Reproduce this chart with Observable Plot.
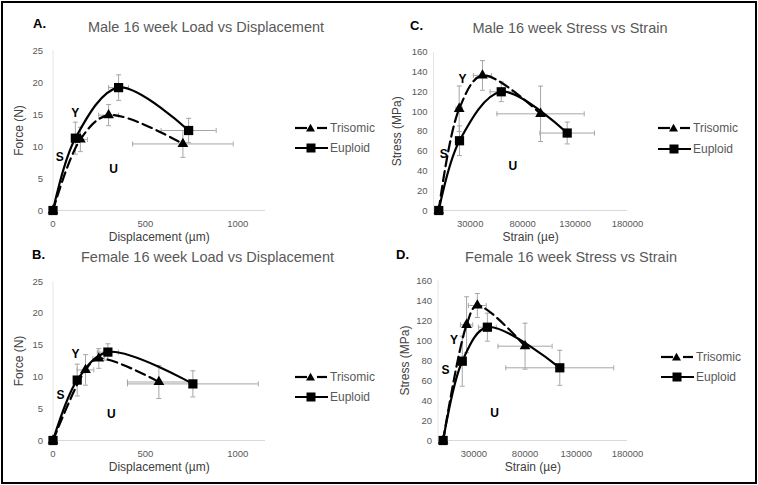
<!DOCTYPE html>
<html>
<head>
<meta charset="utf-8">
<script src="https://cdn.jsdelivr.net/npm/d3@7"></script>
<script src="https://cdn.jsdelivr.net/npm/@observablehq/plot@0.6"></script>
<style>
  body { margin: 0; background: #fff; font-family: "Liberation Sans", Arial, sans-serif; }
  #page { position: relative; width: 758px; height: 485px; overflow: hidden; }
  #frame { position: absolute; left: 1px; top: 1px; width: 756px; height: 483px; border: 2px solid #000; box-sizing: border-box; }
  .panel { position: absolute; }
  .panel svg g[aria-label="x-axis label"], .panel svg g[aria-label="y-axis label"] { font-size: 12px; fill: #404040; }
  .letter { position: absolute; font-weight: bold; font-size: 13px; color: #000; transform: translateY(-50%); }
  .title { position: absolute; font-size: 14.5px; color: #595959; white-space: nowrap; transform: translate(-50%, -50%); }
  .legrow { position: absolute; font-size: 12px; color: #595959; line-height: 14px; height: 14px; white-space: nowrap; display: flex; align-items: center; }
  .legrow svg { margin-right: 1px; }
</style>
</head>
<body>
<div id="page"><div id="frame"></div></div>
<script>
// A. Male 16 week Load vs Displacement
const maleLoadTriX = [0, 148, 301, 703];
const maleLoadTriY = [0, 11.1, 14.9, 10.4];
const maleLoadTriXErr = [0, 38, 54, 272];
const maleLoadTriYErr = [0, 1.9, 1.65, 2.1];
const maleLoadEupX = [0, 121, 355, 734];
const maleLoadEupY = [0, 11.3, 19.2, 12.5];
const maleLoadEupXErr = [0, 20, 54, 149];
const maleLoadEupYErr = [0, 2.5, 2.0, 1.9];
const maleLoadNotes = [["S", 36, 8.4], ["Y", 121, 15.2], ["U", 328, 6.5]];

// B. Female 16 week Load vs Displacement
const femaleLoadTriX = [0, 176, 248, 573];
const femaleLoadTriY = [0, 11.1, 12.9, 9.2];
const femaleLoadTriXErr = [0, 45, 32, 170];
const femaleLoadTriYErr = [0, 2.4, 1.55, 2.6];
const femaleLoadEupX = [0, 131, 297, 757];
const femaleLoadEupY = [0, 9.5, 13.9, 8.9];
const femaleLoadEupXErr = [0, 18, 57, 354];
const femaleLoadEupYErr = [0, 2.5, 1.3, 2.05];
const femaleLoadNotes = [["S", 41, 7.1], ["Y", 122, 13.6], ["U", 315, 4.2]];

// C. Male 16 week Stress vs Strain
const maleStressTriX = [0, 19500, 41700, 97100];
const maleStressTriY = [0, 102.8, 136.5, 97.7];
const maleStressTriXErr = [0, 3000, 8700, 41600];
const maleStressTriYErr = [0, 23, 15, 28];
const maleStressEupX = [0, 19800, 59600, 122500];
const maleStressEupY = [0, 70.5, 120, 78.3];
const maleStressEupXErr = [0, 3000, 10600, 26000];
const maleStressEupYErr = [0, 15, 10, 11];
const maleStressNotes = [["S", 4800, 57], ["Y", 22700, 132.5], ["U", 70700, 44.8]];

// D. Female 16 week Stress vs Strain
const femaleStressTriX = [0, 22900, 33400, 80000];
const femaleStressTriY = [0, 115.7, 135, 94.3];
const femaleStressTriXErr = [0, 6000, 8700, 26400];
const femaleStressTriYErr = [0, 28, 12, 23];
const femaleStressEupX = [0, 18700, 43200, 113900];
const femaleStressEupY = [0, 79.3, 113.3, 72.7];
const femaleStressEupXErr = [0, 3000, 8700, 52700];
const femaleStressEupYErr = [0, 25, 14, 17.5];
const femaleStressNotes = [["S", 2300, 70], ["Y", 10500, 100.7], ["U", 50300, 27.3]];

const loadTicksX = [0, 500, 1000];
const loadTicksY = [0, 5, 10, 15, 20, 25];
const strainTicksX = [30000, 80000, 130000, 180000];
const stressTicksY = [0, 20, 40, 60, 80, 100, 120, 140, 160];
const seriesNames = ["Trisomic", "Euploid"];

const errStroke = "#a6a6a6";

// cap glyphs for error bars; r comes back out of the symbol size
const capH = {draw(ctx, size) { const r = Math.sqrt(size / Math.PI); ctx.moveTo(-r, 0); ctx.lineTo(r, 0); }};
const capV = {draw(ctx, size) { const r = Math.sqrt(size / Math.PI); ctx.moveTo(0, -r); ctx.lineTo(0, r); }};

function rows(xs, ys, xe, ye) {
  return xs.map((x, i) => ({x, y: ys[i], xe: xe[i], ye: ye[i]}));
}

function addDiv(cls, text, left, top) {
  const el = document.createElement("div");
  el.className = cls;
  el.textContent = text;
  el.style.left = left + "px";
  el.style.top = top + "px";
  document.getElementById("page").appendChild(el);
  return el;
}

function legendSwatch(kind) {
  const ns = "http://www.w3.org/2000/svg";
  const svg = document.createElementNS(ns, "svg");
  svg.setAttribute("width", 34);
  svg.setAttribute("height", 12);
  if (kind === 0) {
    svg.innerHTML =
      '<line x1="0" y1="6" x2="12" y2="6" stroke="#000" stroke-width="2.2"/>' +
      '<polygon points="15.5,1.8 20,9.6 11,9.6" fill="#000"/>' +
      '<line x1="22" y1="6" x2="32" y2="6" stroke="#000" stroke-width="2.2"/>';
  } else {
    svg.innerHTML =
      '<line x1="0" y1="6" x2="33" y2="6" stroke="#000" stroke-width="2.2"/>' +
      '<rect x="11.5" y="1.5" width="9" height="9" fill="#000"/>';
  }
  return svg;
}

function addLegend(left, top1, top2) {
  [top1, top2].forEach((cy, i) => {
    const row = addDiv("legrow", "", left, cy - 7);
    row.appendChild(legendSwatch(i));
    row.appendChild(document.createTextNode(seriesNames[i]));
  });
}

function drawPanel(p) {
  const tri = rows(p.triX, p.triY, p.triXErr, p.triYErr);
  const eup = rows(p.eupX, p.eupY, p.eupXErr, p.eupYErr);
  const all = tri.concat(eup);
  const vBars = all.filter((d) => d.ye > 0);
  const hBars = all.filter((d) => d.xe > 0);
  const capStyle = {r: 2.5, stroke: errStroke, fill: "none", strokeWidth: 1};

  const chart = Plot.plot({
    width: p.width,
    height: p.height,
    marginLeft: p.ml,
    marginRight: p.mr,
    marginTop: p.mt,
    marginBottom: p.mb,
    style: {fontFamily: '"Liberation Sans", Arial, sans-serif', fontSize: "9.5px", color: "#595959", background: "transparent", overflow: "visible"},
    x: {
      domain: p.xDomain,
      ticks: p.xTicks,
      tickFormat: (d) => String(d),
      tickSize: 0,
      tickPadding: 10,
      label: p.xLabel,
      labelAnchor: "center",
      labelOffset: 30,
      labelArrow: "none",
    },
    y: {
      domain: p.yDomain,
      ticks: p.yTicks,
      tickFormat: (d) => String(d),
      tickSize: 0,
      tickPadding: p.yPad,
      label: p.yLabel,
      labelAnchor: "center",
      labelOffset: p.yOff,
      labelArrow: "none",
    },
    marks: [
      Plot.ruleX([p.xDomain[0]], {stroke: "#e6e6e6"}),
      Plot.ruleY([0], {stroke: "#d9d9d9"}),
      Plot.ruleX(vBars, {x: "x", y1: (d) => d.y - d.ye, y2: (d) => d.y + d.ye, stroke: errStroke}),
      Plot.ruleY(hBars, {y: "y", x1: (d) => d.x - d.xe, x2: (d) => d.x + d.xe, stroke: errStroke}),
      Plot.dot(vBars, {x: "x", y: (d) => d.y - d.ye, symbol: capH, ...capStyle}),
      Plot.dot(vBars, {x: "x", y: (d) => d.y + d.ye, symbol: capH, ...capStyle}),
      Plot.dot(hBars, {x: (d) => d.x - d.xe, y: "y", symbol: capV, ...capStyle}),
      Plot.dot(hBars, {x: (d) => d.x + d.xe, y: "y", symbol: capV, ...capStyle}),
      Plot.line(eup, {x: "x", y: "y", curve: "catmull-rom", stroke: "#000", strokeWidth: 2.2}),
      Plot.line(tri, {x: "x", y: "y", curve: "catmull-rom", stroke: "#000", strokeWidth: 2.2, strokeDasharray: "10,5"}),
      Plot.dot(tri, {x: "x", y: "y", symbol: "triangle", r: 4, fill: "#000", stroke: "none"}),
      Plot.dot(eup, {x: "x", y: "y", symbol: "square", r: 5.2, fill: "#000", stroke: "none"}),
      Plot.text(p.notes, {x: (d) => d[1], y: (d) => d[2], text: (d) => d[0], fontWeight: "bold", fontSize: 12, fill: "#000"}),
    ],
  });

  const holder = document.createElement("div");
  holder.className = "panel";
  holder.style.left = p.left + "px";
  holder.style.top = p.top + "px";
  holder.appendChild(chart);
  document.getElementById("page").appendChild(holder);
}

const loadLayout = {width: 285, height: 207, ml: 52.5, mr: 20, mb: 35, xDomain: [0, 1150], yDomain: [0, 25], xTicks: loadTicksX, yTicks: loadTicksY, yPad: 10, yOff: 39, xLabel: "Displacement (µm)", yLabel: "Force (N)"};
const strainLayout = {width: 270, height: 207, mr: 18, mb: 35, xDomain: [-5000, 180000], yDomain: [0, 160], xTicks: strainTicksX, yTicks: stressTicksY, yPad: 6, xLabel: "Strain (µe)", yLabel: "Stress (MPa)"};

drawPanel({...loadLayout, left: 0, top: 38, mt: 12,
  triX: maleLoadTriX, triY: maleLoadTriY, triXErr: maleLoadTriXErr, triYErr: maleLoadTriYErr,
  eupX: maleLoadEupX, eupY: maleLoadEupY, eupXErr: maleLoadEupXErr, eupYErr: maleLoadEupYErr, notes: maleLoadNotes});
drawPanel({...loadLayout, left: 0, top: 268, mt: 13,
  triX: femaleLoadTriX, triY: femaleLoadTriY, triXErr: femaleLoadTriXErr, triYErr: femaleLoadTriYErr,
  eupX: femaleLoadEupX, eupY: femaleLoadEupY, eupXErr: femaleLoadEupXErr, eupYErr: femaleLoadEupYErr, notes: femaleLoadNotes});
drawPanel({...strainLayout, left: 375, top: 38, mt: 13.7, ml: 58, yOff: 41,
  triX: maleStressTriX, triY: maleStressTriY, triXErr: maleStressTriXErr, triYErr: maleStressTriYErr,
  eupX: maleStressEupX, eupY: maleStressEupY, eupXErr: maleStressEupXErr, eupYErr: maleStressEupYErr, notes: maleStressNotes});
drawPanel({...strainLayout, left: 375, top: 268, mt: 12, ml: 62.5, yOff: 38,
  triX: femaleStressTriX, triY: femaleStressTriY, triXErr: femaleStressTriXErr, triYErr: femaleStressTriYErr,
  eupX: femaleStressEupX, eupY: femaleStressEupY, eupXErr: femaleStressEupXErr, eupYErr: femaleStressEupYErr, notes: femaleStressNotes});

// panel letters and titles
addDiv("letter", "A.", 33, 23);
addDiv("letter", "C.", 410, 25);
addDiv("letter", "B.", 32, 254);
addDiv("letter", "D.", 396, 254);
addDiv("title", "Male 16 week Load vs Displacement", 206, 27);
addDiv("title", "Male 16 week Stress vs Strain", 570, 28);
addDiv("title", "Female 16 week Load vs Displacement", 207.5, 257);
addDiv("title", "Female 16 week Stress vs Strain", 571, 257);

addLegend(295, 128, 148);
addLegend(658, 128, 149);
addLegend(295, 377, 397);
addLegend(661, 357, 377);
</script>
</body>
</html>
